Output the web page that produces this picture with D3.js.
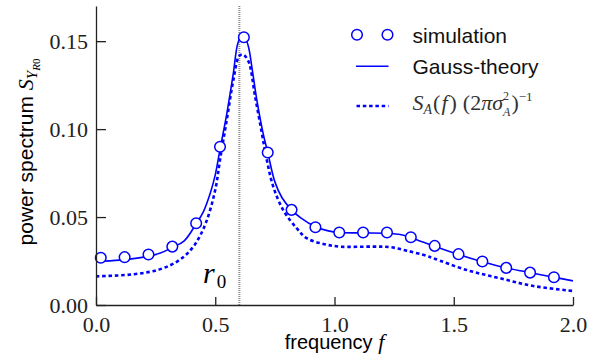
<!DOCTYPE html>
<html>
<head>
<meta charset="utf-8">
<script src="https://cdn.jsdelivr.net/npm/d3@7"></script>
<style>
  body { margin: 0; background: #fff; }
  .tick text { font-family: "Liberation Serif", serif; font-size: 22px; fill: #222; }
  .sans { font-family: "Liberation Sans", Arial, sans-serif; }
  .serif { font-family: "Liberation Serif", serif; }
</style>
</head>
<body>
<script>
// simulation points
var simF = [0.02, 0.12, 0.22, 0.32, 0.42, 0.52, 0.62, 0.72, 0.82, 0.92,
            1.02, 1.12, 1.22, 1.32, 1.42, 1.52, 1.62, 1.72, 1.82, 1.92];
var simS = [0.0269, 0.0272, 0.0287, 0.0332, 0.0465, 0.0900, 0.1522, 0.0867, 0.0541, 0.0442,
            0.0412, 0.0412, 0.0412, 0.0385, 0.0336, 0.0289, 0.0247, 0.0211, 0.0184, 0.0158];

// Gauss-theory curve
var theoryF = [0, 0.1, 0.2, 0.27, 0.32, 0.37, 0.42, 0.45, 0.48, 0.50, 0.52, 0.55, 0.575, 0.595, 0.612,
               0.625, 0.639, 0.655, 0.675, 0.70, 0.72, 0.75, 0.78, 0.82, 0.86, 0.92, 0.97, 1.02, 1.12,
               1.22, 1.28, 1.32, 1.42, 1.52, 1.62, 1.72, 1.82, 1.92, 2.0];
var theoryS = [0.0247, 0.0255, 0.0272, 0.0295, 0.0328, 0.0365, 0.0462, 0.0530, 0.0640, 0.0740, 0.0885, 0.110, 0.131, 0.149, 0.1535,
               0.152, 0.147, 0.134, 0.116, 0.098, 0.0868, 0.0700, 0.0610, 0.0541, 0.0494, 0.0445, 0.0423, 0.0412, 0.0410,
               0.0408, 0.0399, 0.0383, 0.0334, 0.0287, 0.0246, 0.0211, 0.0184, 0.0158, 0.0137];

// S_A(f) (2 pi sigma_A^2)^-1 curve
var approxF = [0, 0.16, 0.27, 0.35, 0.41, 0.46, 0.50, 0.52, 0.548, 0.576, 0.60, 0.616, 0.639, 0.667, 0.695,
               0.716, 0.743, 0.785, 0.841, 0.883, 0.953, 1.023, 1.163, 1.233, 1.303, 1.387, 1.414, 1.554,
               1.694, 1.834, 2.0];
var approxS = [0.0163, 0.0175, 0.0204, 0.0256, 0.0335, 0.0465, 0.0655, 0.0826, 0.105, 0.128, 0.1415, 0.1424, 0.1386, 0.1186, 0.098,
               0.0826, 0.0674, 0.054, 0.0437, 0.038, 0.0347, 0.0332, 0.0332, 0.0329, 0.0309, 0.0279, 0.0266, 0.0199,
               0.0152, 0.0108, 0.0080];

var r0 = 0.601;
var xTicks = [0.0, 0.5, 1.0, 1.5, 2.0];
var yTicks = [0.00, 0.05, 0.10, 0.15];

var width = 607, height = 362;
var x = d3.scaleLinear().domain([0, 2]).range([96, 573]);
var y = d3.scaleLinear().domain([0, 0.17]).range([305, 6]);

var svg = d3.select("body").append("svg")
  .attr("width", width)
  .attr("height", height);

// r0 marker
svg.append("line")
  .attr("x1", x(r0)).attr("x2", x(r0))
  .attr("y1", y(0.17)).attr("y2", y(0))
  .attr("stroke", "#8a8a8a")
  .attr("stroke-width", 2)
  .attr("stroke-dasharray", "1,1");

var line = d3.line()
  .x(function(d) { return x(d[0]); })
  .y(function(d) { return y(d[1]); })
  .curve(d3.curveCatmullRom.alpha(0.5));

svg.append("path")
  .datum(approxF.map(function(f, i) { return [f, approxS[i]]; }))
  .attr("d", line)
  .attr("fill", "none")
  .attr("stroke", "#0000ff")
  .attr("stroke-width", 2.6)
  .attr("stroke-dasharray", "3.5,2.8");

svg.append("path")
  .datum(theoryF.map(function(f, i) { return [f, theoryS[i]]; }))
  .attr("d", line)
  .attr("fill", "none")
  .attr("stroke", "#0000ff")
  .attr("stroke-width", 1.6);

svg.selectAll("circle.sim")
  .data(simF)
  .enter().append("circle")
  .attr("class", "sim")
  .attr("cx", function(d) { return x(d); })
  .attr("cy", function(d, i) { return y(simS[i]); })
  .attr("r", 5.3)
  .attr("fill", "#fff")
  .attr("stroke", "#0000ff")
  .attr("stroke-width", 1.5);

// axes, ticks pointing inwards
var xAxis = d3.axisBottom(x).tickValues(xTicks).tickFormat(d3.format(".1f"))
  .tickSizeInner(-8).tickSizeOuter(0).tickPadding(18);
var yAxis = d3.axisLeft(y).tickValues(yTicks).tickFormat(d3.format(".2f"))
  .tickSizeInner(-10).tickSizeOuter(0).tickPadding(8);

var gx = svg.append("g").attr("transform", "translate(0," + y(0) + ")").call(xAxis);
var gy = svg.append("g").attr("transform", "translate(" + x(0) + ",0)").call(yAxis);
[gx, gy].forEach(function(g) {
  g.select(".domain").attr("stroke", "#222").attr("stroke-width", 1.3);
  g.selectAll(".tick line").attr("stroke", "#222").attr("stroke-width", 1.3);
});
gx.selectAll(".tick text").attr("dy", "0.71em").attr("y", 11);
gy.selectAll(".tick text").attr("x", -8).attr("dy", "0.34em");

// r0 label
var rl = svg.append("text").attr("class", "serif").attr("x", 203).attr("y", 283);
rl.append("tspan").attr("font-style", "italic").attr("font-size", 30).text("r");
rl.append("tspan").attr("font-size", 19).attr("dy", 5).attr("dx", 2).text("0");

// x label
var xl = svg.append("text")
  .attr("x", 334.5).attr("y", 349)
  .attr("text-anchor", "middle");
xl.append("tspan").attr("class", "sans").attr("font-size", 20).text("frequency ");
xl.append("tspan").attr("class", "serif").attr("font-style", "italic").attr("font-size", 22).text("f");

// y label
var yl = svg.append("text")
  .attr("transform", "translate(33,152) rotate(-90)")
  .attr("text-anchor", "middle");
yl.append("tspan").attr("class", "sans").attr("font-size", 21).text("power spectrum ");
yl.append("tspan").attr("class", "serif").attr("font-style", "italic").attr("font-size", 22).text("S");
yl.append("tspan").attr("class", "serif").attr("font-style", "italic").attr("font-size", 15).attr("dy", 4).text("Y");
yl.append("tspan").attr("class", "serif").attr("font-style", "italic").attr("font-size", 11).attr("dy", 3).text("R");
yl.append("tspan").attr("class", "serif").attr("font-size", 11).text("0");

// legend
var lg = svg.append("g");
lg.selectAll("circle")
  .data([357, 387.5])
  .enter().append("circle")
  .attr("cx", function(d) { return d; })
  .attr("cy", 34.7)
  .attr("r", 5.3)
  .attr("fill", "#fff")
  .attr("stroke", "#0000ff")
  .attr("stroke-width", 1.5);
lg.append("line")
  .attr("x1", 356).attr("x2", 388.5).attr("y1", 66.3).attr("y2", 66.3)
  .attr("stroke", "#0000ff").attr("stroke-width", 1.6);
lg.append("line")
  .attr("x1", 356.5).attr("x2", 388.5).attr("y1", 106).attr("y2", 106)
  .attr("stroke", "#0000ff").attr("stroke-width", 2.6).attr("stroke-dasharray", "3.5,2.8");

lg.append("text").attr("class", "sans").attr("font-size", 21).attr("fill", "#111")
  .attr("x", 412.5).attr("y", 43).text("simulation");
lg.append("text").attr("class", "sans").attr("font-size", 21).attr("fill", "#111")
  .attr("x", 412.5).attr("y", 73.5).text("Gauss-theory");

var fm = lg.append("text").attr("class", "serif").attr("fill", "#333")
  .attr("x", 412.5).attr("y", 110).attr("font-size", 22);
fm.append("tspan").attr("font-style", "italic").text("S");
fm.append("tspan").attr("font-style", "italic").attr("font-size", 14).attr("dy", 4).text("A");
fm.append("tspan").attr("dy", -4).attr("dx", 1).text("(");
fm.append("tspan").attr("font-style", "italic").attr("dx", 1).text("f");
fm.append("tspan").attr("dx", 2).text(")");
fm.append("tspan").attr("dx", 6).text("(2");
fm.append("tspan").attr("font-style", "italic").text("πσ");
fm.append("tspan").attr("font-size", 12).attr("dy", -10).text("2");
fm.append("tspan").attr("font-style", "italic").attr("font-size", 12).attr("dy", 16).attr("dx", -6).text("A");
fm.append("tspan").attr("dy", -6).attr("dx", 1).text(")");
fm.append("tspan").attr("font-size", 13).attr("dy", -9).text("−1");
</script>
</body>
</html>
